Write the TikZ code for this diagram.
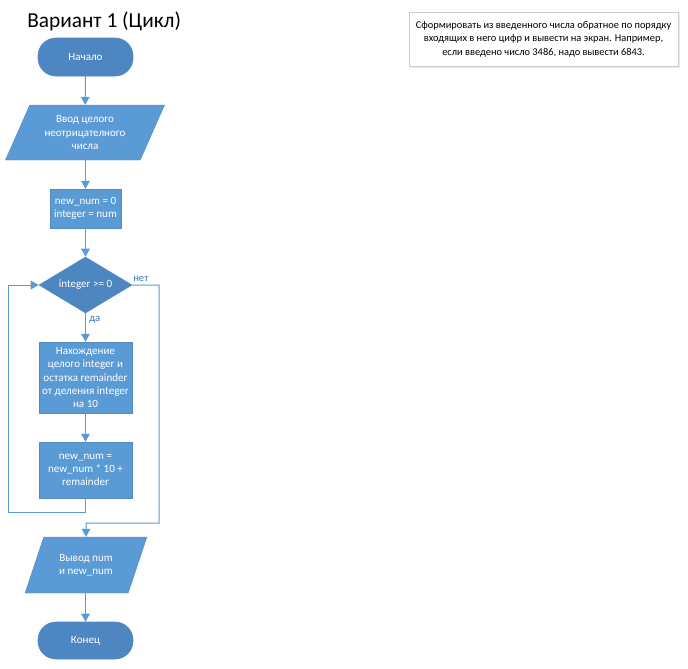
\documentclass[tikz,border=0pt]{standalone}
\usepackage{fontspec}
\setmainfont{Carlito}
\usetikzlibrary{shapes.geometric,arrows.meta}
\definecolor{fillA}{HTML}{5B9BD5}
\definecolor{fillB}{HTML}{4E86C1}
\definecolor{lineC}{HTML}{5B9BD5}
\definecolor{lblC}{HTML}{3E78B8}
\tikzset{
  x=0.75pt, y=-0.75pt,
  base/.style={text=white, font=\fontsize{8.3}{9.9}\selectfont, align=center, inner sep=1pt},
  term/.style={base, fill=fillB, draw=fillB, line width=0.5pt, rectangle, rounded corners=13.5pt, minimum width=71.25pt},
  procbox/.style={base, fill=fillA, draw=fillA!90!black, line width=0.3pt, rectangle},
  iobox/.style={base, fill=fillA, draw=fillA!90!black, line width=0.3pt, trapezium, trapezium left angle=63, trapezium right angle=117, trapezium stretches=true},
  decbox/.style={base, fill=fillB, draw=fillB, diamond, minimum width=69.75pt, minimum height=42pt, inner sep=0pt},
  conn/.style={draw=lineC, line width=0.75pt},
  arr/.style={conn, -{Triangle[length=6pt,width=6.5pt]}},
  lbl/.style={text=lblC, font=\fontsize{8}{9}\selectfont, inner sep=0pt},
}
\begin{document}
\begin{tikzpicture}
\useasboundingbox (0,0) rectangle (688,668);
\fill[white] (0,0) rectangle (688,668);

\node[anchor=west, font=\fontsize{16}{19}\selectfont, inner sep=0pt] (title) at (27,21) {Вариант 1 (Цикл)};

% note box
\fill[black!8] (411,14) rectangle (680,68);
\node[draw=black!20, fill=white, line width=0.5pt, minimum width=201.75pt, minimum height=40.5pt, align=center,
      font=\fontsize{7.8}{10}\selectfont, inner sep=1pt] (note) at (543.5,39)
  {Сформировать из введенного числа обратное по порядку\\входящих в него цифр и вывести на экран. Например,\\если введено число 3486, надо вывести 6843.};

\node[term, minimum height=28.5pt] (start) at (85.5,57) {Начало};
\node[iobox, minimum width=120pt, minimum height=41.25pt] (in) at (85,132.5) {Ввод целого\\неотрицателного\\числа};
\node[procbox, minimum width=53.25pt, minimum height=29.25pt] (init) at (85.5,208.5) {new\_num = 0\\integer = num};
\node[decbox, shape aspect=1.66] (cond) at (85.5,285) {integer >= 0};
\node[procbox, minimum width=69.75pt, minimum height=53.25pt] (p2) at (85.5,377.5) {Нахождение\\целого integer и\\остатка remainder\\от деления integer\\на 10};
\node[procbox, minimum width=69.75pt, minimum height=42pt] (p3) at (85.5,470) {new\_num =\\new\_num * 10 +\\remainder};
\node[iobox, minimum width=91.5pt, minimum height=42pt] (out) at (86,565) {Вывод num\\и new\_num};
\node[term, minimum height=27.75pt] (end) at (85.5,640.5) {Конец};

\coordinate (loopL) at (8,512);
\coordinate (noR) at (159,523);
\coordinate (join) at (86,523);

\draw[arr] (start) -- (in);
\draw[arr] (in.south -| init.north) -- (init.north);
\draw[arr] (init) -- (cond);
\draw[arr] (cond) -- (p2);
\draw[arr] (p2) -- (p3);
\draw[arr] (p3.south) |- (loopL) |- (cond.west);
\draw[arr] (cond.east) -| (noR) -- (join) -- (out.north);
\draw[arr] (out.south -| end.north) -- (end.north);

\node[lbl, anchor=south west] (no) at (133,282) {нет};
\node[lbl, anchor=north west] (yes) at (89,316) {да};
\end{tikzpicture}
\end{document}
